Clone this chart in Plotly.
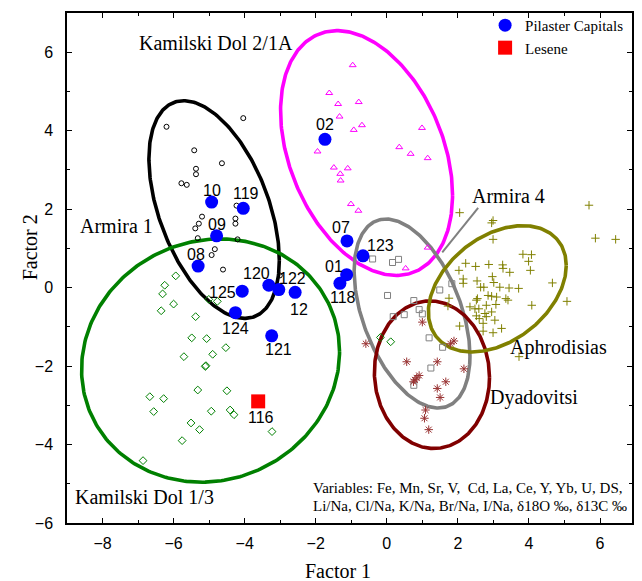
import numpy as np
import plotly.graph_objects as go

# ---------------- data ----------------
armira1_x = [-6.20, -4.04, -5.42, -4.64, -5.37, -5.37, -5.78, -5.63, -4.23, -5.20,
             -5.29, -5.39, -4.26, -4.26, -5.32, -4.20, -4.84, -4.93, -4.61, -3.01]
armira1_y = [4.10, 4.32, 3.50, 3.17, 3.03, 2.89, 2.66, 2.62, 2.09, 1.81,
             1.63, 1.51, 1.76, 1.63, 1.26, 1.23, 0.98, 0.83, 0.46, 0.31]

kd21a_x = [-0.96, -1.62, -1.37, -0.79, -1.33, -0.70, -0.93, 0.99, -1.95, 0.35,
           0.67, 1.15, -1.49, -1.10, -1.31, -1.30, -1.01, -0.80, 1.15, 0.53]
kd21a_y = [5.67, 4.96, 4.68, 4.73, 4.36, 4.14, 4.02, 4.07, 3.47, 3.58,
           3.41, 3.30, 3.06, 3.04, 2.90, 2.73, 2.13, 1.96, 1.02, 0.49]

kd13_x = [-5.94, -6.25, -6.31, -6.00, -6.35, -5.01, -4.77, -5.38, -5.49, -5.07,
          -4.53, -5.71, -4.90, -5.11, -5.09, -5.32, -4.50, -6.67, -6.28, -6.56,
          -4.94, -4.41, -4.30, -5.51, -5.27, -3.23, -5.76, -6.86, -0.18, 0.11]
kd13_y = [0.30, 0.06, -0.16, -0.42, -0.59, -0.30, -0.35, -0.74, -1.28, -1.30,
          -1.53, -1.76, -1.70, -2.01, -1.99, -2.61, -2.63, -2.78, -2.83, -3.16,
          -3.15, -3.12, -3.24, -3.45, -3.62, -3.67, -3.90, -4.41, -1.27, -1.38]

armira4_x = [-0.40, 0.16, 0.33, 0.02, 0.76, 0.18, 0.49, 0.91, 1.00, 1.49,
             1.83, 1.19, 1.57, 1.24, 0.76]
armira4_y = [0.73, 0.64, 0.72, -0.20, -0.33, -0.74, -0.69, -0.56, -0.67, -0.06,
             0.10, -1.28, -1.52, -2.05, -2.49]

dyad_x = [-0.59, 1.00, 0.56, 1.42, 1.79, 1.89, 2.17, 0.91, 0.84, 0.79,
          0.75, 1.66, 1.42, 1.50, 1.09, 1.06, 1.18]
dyad_y = [-1.43, -0.88, -1.89, -1.89, -1.43, -1.36, -2.07, -2.24, -2.30, -2.35,
          -2.40, -2.40, -2.57, -2.80, -3.12, -3.33, -3.62]

aphro_x = [2.05, 2.95, 2.99, 2.99, 5.69, 5.87, 6.44, 3.83, 4.07, 3.99,
           4.04, 2.22, 2.50, 2.87, 3.26, 3.27, 3.46, 2.03, 2.97, 2.15,
           2.15, 2.54, 3.01, 2.64, 2.73, 3.18, 3.44, 3.71, 4.66, 2.85,
           2.95, 3.09, 2.55, 2.52, 3.35, 3.41, 5.07, 4.08, 2.34, 2.48,
           2.59, 2.80, 3.07, 1.75, 1.72, 2.76, 2.80, 2.52, 2.95, 3.04,
           2.60, 2.71, 2.05, 2.71, 2.99, 3.23, 3.72]
aphro_y = [1.91, 1.65, 1.71, 1.23, 2.10, 1.26, 1.23, 0.85, 0.84, 0.67,
           0.44, 0.62, 0.54, 0.59, 0.58, 0.49, 0.39, 0.44, 0.28, 0.22,
           0.11, 0.17, 0.13, 0.01, 0.01, 0.01, -0.01, -0.02, 0.12, -0.20,
           -0.22, -0.24, -0.28, -0.32, -0.28, -0.32, -0.35, -0.45, -0.49, -0.54,
           -0.54, -0.45, -0.43, -0.27, -0.47, -0.66, -0.74, -0.72, -0.62, -0.83,
           -0.79, -0.91, -0.98, -1.11, -1.15, -1.04, -1.76]

pilaster_labels = ["02", "07", "123", "01", "118", "10", "119", "09", "08",
                   "125", "124", "120", "122", "12", "121"]
pilaster_x = [-1.74, -1.12, -0.67, -1.13, -1.32, -4.93, -4.04, -4.79, -5.31,
              -4.07, -4.26, -3.32, -3.04, -2.58, -3.24]
pilaster_y = [3.78, 1.19, 0.81, 0.33, 0.11, 2.18, 2.02, 1.32, 0.55,
              -0.09, -0.64, 0.06, -0.05, -0.12, -1.23]

lesene_labels = ["116"]
lesene_x = [-3.62]
lesene_y = [-2.90]

# confidence ellipses: centre x, centre y, sd x, sd y, correlation
ell_names = ["Armira 1", "Kamilski Dol 2/1A", "Kamilski Dol 1/3", "Armira 4",
             "Dyadovitsi", "Aphrodisias"]
ell_cx = [-4.86, -0.57, -4.96, 0.71, 1.27, 3.11]
ell_cy = [1.99, 3.43, -1.86, -0.66, -2.22, -0.03]
ell_sx = [1.835, 2.42, 3.63, 1.63, 1.62, 1.94]
ell_sy = [2.775, 3.12, 3.10, 2.41, 1.88, 1.61]
ell_r = [-0.467, -0.344, 0.073, -0.45, -0.036, 0.369]

x_ticks = [-8, -6, -4, -2, 0, 2, 4, 6]
y_ticks = [-6, -4, -2, 0, 2, 4, 6]

# ---------------- styles ----------------
SERIF = "Liberation Serif, Times New Roman, serif"
SANS = "Liberation Sans, Arial, sans-serif"
ell_colors = ["#000000", "#FF00FF", "#008000", "#808080", "#800000", "#808000"]

# label offsets in pixels (dx right, dy up)
lab_off = {"02": (0, 15), "07": (-6, 13), "123": (17, 10), "01": (-13, 8),
           "118": (3, -14), "10": (0, 12), "119": (3, 15), "09": (0, 11),
           "08": (-2, 12), "125": (-20, -1), "124": (0, -16), "120": (-12, 12),
           "122": (14, 11), "12": (4, -17), "121": (7, -14), "116": (3, -16)}

fig = go.Figure()

t = np.linspace(0, 2 * np.pi, 301)
for cx, cy, sx, sy, r, col in zip(ell_cx, ell_cy, ell_sx, ell_sy, ell_r, ell_colors):
    ex = cx + sx * np.cos(t)
    ey = cy + sy * (r * np.cos(t) + np.sqrt(1 - r * r) * np.sin(t))
    fig.add_trace(go.Scatter(x=ex, y=ey, mode="lines", line=dict(color=col, width=3.6),
                             showlegend=False, hoverinfo="skip"))

groups = [
    (armira1_x, armira1_y, "circle-open", "#000000", 5),
    (kd21a_x, kd21a_y, "triangle-up-open", "#FF00FF", 6),
    (kd13_x, kd13_y, "diamond-open", "#008000", 6),
    (armira4_x, armira4_y, "square-open", "#808080", 6),
    (dyad_x, dyad_y, "asterisk-open", "#993333", 7),
    (aphro_x, aphro_y, "cross-thin-open", "#808000", 6),
]
for gx, gy, sym, col, sz in groups:
    fig.add_trace(go.Scatter(x=gx, y=gy, mode="markers",
                             marker=dict(symbol=sym, size=sz, color=col,
                                         line=dict(color=col, width=1)),
                             showlegend=False))

fig.add_trace(go.Scatter(x=pilaster_x, y=pilaster_y, mode="markers", name="Pilaster Capitals",
                         marker=dict(symbol="circle", size=13, color="#0000FF")))
fig.add_trace(go.Scatter(x=lesene_x, y=lesene_y, mode="markers", name="Lesene",
                         marker=dict(symbol="square", size=14, color="#FF0000")))

annotations = []
for lab, px, py in list(zip(pilaster_labels, pilaster_x, pilaster_y)) + \
        list(zip(lesene_labels, lesene_x, lesene_y)):
    dx, dy = lab_off[lab]
    annotations.append(dict(x=px, y=py, text=lab, showarrow=False, xshift=dx, yshift=dy,
                            font=dict(family=SANS, size=16, color="black")))

grp_lab = [
    ("Kamilski Dol 2/1A", -2.59, 6.24, "right"),
    ("Armira 1", -6.53, 1.57, "right"),
    ("Armira 4", 2.33, 2.33, "left"),
    ("Aphrodisias", 3.41, -1.53, "left"),
    ("Dyadovitsi", 2.85, -2.81, "left"),
    ("Kamilski Dol 1/3", -8.84, -5.33, "left"),
]
for txt, ax, ay, anc in grp_lab:
    annotations.append(dict(x=ax, y=ay, text=txt, showarrow=False, xanchor=anc,
                            font=dict(family=SERIF, size=20, color="black")))

annotations.append(dict(x=-2.14, y=-5.12, xanchor="left", showarrow=False,
                        text="Variables: Fe, Mn, Sr, V, &nbsp;Cd, La, Ce, Y, Yb, U, DS,",
                        font=dict(family=SERIF, size=15, color="black")))
annotations.append(dict(x=-2.14, y=-5.56, xanchor="left", showarrow=False,
                        text="Li/Na, Cl/Na, K/Na, Br/Na, I/Na, δ18O ‰, δ13C ‰",
                        font=dict(family=SERIF, size=15, color="black")))

annotations.append(dict(xref="paper", yref="paper", x=0.48, y=-0.095, showarrow=False,
                        xanchor="center", yanchor="middle",
                        text="Factor 1", font=dict(family=SERIF, size=20, color="black")))
annotations.append(dict(xref="paper", yref="paper", x=-0.066, y=0.54, showarrow=False,
                        xanchor="center", yanchor="middle",
                        textangle=-90, text="Factor 2",
                        font=dict(family=SERIF, size=20, color="black")))

fig.add_shape(type="line", x0=2.57, y0=2.03, x1=1.56, y1=0.90,
              line=dict(color="#808080", width=2))

axis_common = dict(showgrid=False, zeroline=False, showline=True, linecolor="black",
                   linewidth=1.5, mirror="ticks", ticks="inside", ticklen=5, tickwidth=1,
                   tickcolor="black", tickfont=dict(family=SANS, size=16, color="black"),
                   minor=dict(ticks="inside", ticklen=3, dtick=1, tickcolor="black"))

fig.update_layout(
    width=642, height=581,
    margin=dict(l=67, r=10, t=9, b=58),
    plot_bgcolor="white", paper_bgcolor="white",
    xaxis=dict(range=[-9, 6.9], tickvals=x_ticks, ticklabelstandoff=5, **axis_common),
    yaxis=dict(range=[-6, 7], tickvals=y_ticks, ticklabelstandoff=9, **axis_common),
    annotations=annotations,
    legend=dict(x=0.74, y=1.008, xanchor="left", yanchor="top", bgcolor="rgba(0,0,0,0)",
                font=dict(family=SERIF, size=15, color="black"), tracegroupgap=0),
)

fig.write_html("out.html")
